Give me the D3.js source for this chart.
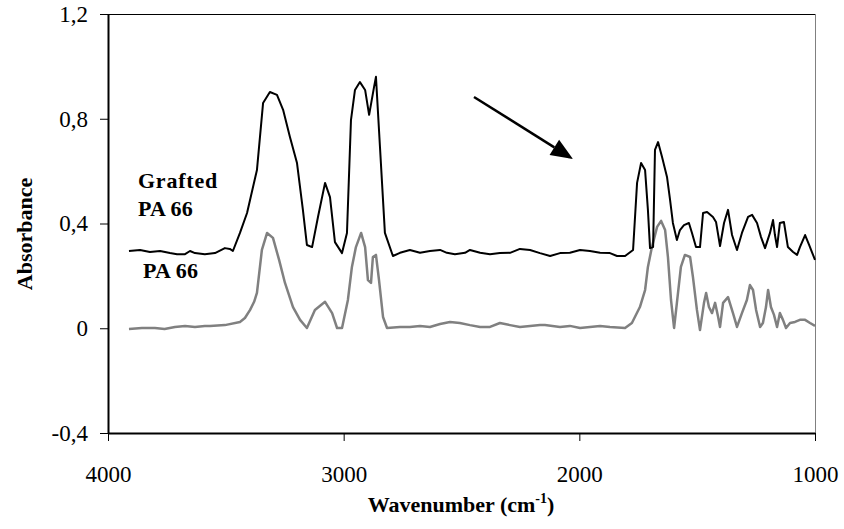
<!DOCTYPE html>
<html><head><meta charset="utf-8">
<script src="https://cdn.jsdelivr.net/npm/d3@7"></script>
</head>
<body style="margin:0;background:#fff"><svg id="c" width="844" height="529"></svg>
<script>
// Wavenumber (cm-1)
const graftedWn = [3911,3864,3822,3779,3737,3707,3673,3652,3631,3589,3546,3504,3483,3470,3440,3410,3368,3342,3313,3283,3257,3228,3198,3173,3156,3134,3109,3079,3058,3037,3007,2986,2969,2952,2931,2909,2892,2871,2863,2846,2825,2791,2761,2719,2676,2634,2591,2562,2528,2485,2464,2421,2379,2337,2294,2252,2209,2167,2124,2082,2040,1997,1955,1912,1870,1840,1806,1772,1755,1738,1721,1709,1700,1687,1679,1666,1649,1628,1615,1603,1586,1573,1556,1535,1522,1505,1488,1475,1458,1433,1420,1403,1386,1369,1352,1331,1310,1284,1267,1246,1229,1212,1191,1178,1170,1161,1149,1132,1115,1093,1076,1064,1042,1025,1013,1000];
const graftedAbs = [0.295,0.299,0.291,0.295,0.287,0.283,0.283,0.295,0.287,0.283,0.287,0.306,0.303,0.295,0.364,0.440,0.604,0.860,0.902,0.891,0.834,0.730,0.631,0.452,0.318,0.310,0.425,0.555,0.501,0.329,0.287,0.364,0.795,0.910,0.940,0.910,0.815,0.922,0.960,0.693,0.364,0.276,0.288,0.299,0.288,0.295,0.299,0.288,0.283,0.288,0.299,0.288,0.283,0.287,0.288,0.303,0.299,0.287,0.276,0.287,0.288,0.299,0.295,0.288,0.287,0.276,0.276,0.299,0.555,0.631,0.604,0.452,0.306,0.310,0.681,0.711,0.654,0.578,0.490,0.402,0.337,0.375,0.394,0.402,0.364,0.310,0.310,0.440,0.444,0.425,0.406,0.314,0.402,0.452,0.356,0.299,0.364,0.425,0.433,0.402,0.348,0.306,0.364,0.413,0.356,0.310,0.402,0.406,0.310,0.291,0.280,0.310,0.356,0.318,0.291,0.261];
const pa66Wn = [3911,3856,3801,3760,3716,3673,3631,3589,3567,3504,3440,3419,3397,3380,3368,3347,3325,3300,3274,3249,3215,3185,3156,3122,3079,3049,3028,3007,2982,2965,2948,2926,2909,2897,2884,2876,2863,2850,2833,2816,2761,2719,2676,2634,2591,2549,2507,2464,2421,2379,2337,2294,2252,2209,2167,2146,2082,2040,1997,1955,1912,1870,1806,1777,1743,1721,1709,1692,1670,1653,1636,1624,1611,1598,1586,1569,1552,1530,1518,1501,1488,1471,1462,1450,1437,1424,1411,1403,1390,1369,1348,1331,1310,1289,1276,1263,1250,1233,1221,1208,1199,1187,1174,1161,1149,1136,1123,1106,1085,1064,1042,1021,1000];
const pa66Abs = [-0.003,0.001,0.001,-0.003,0.005,0.009,0.005,0.009,0.009,0.012,0.024,0.039,0.070,0.101,0.135,0.299,0.364,0.345,0.261,0.173,0.081,0.032,0.001,0.070,0.101,0.058,0.001,0.001,0.108,0.234,0.310,0.364,0.310,0.184,0.173,0.272,0.280,0.184,0.043,0.001,0.005,0.005,0.009,0.005,0.016,0.024,0.020,0.012,0.005,0.005,0.020,0.012,0.005,0.009,0.012,0.012,0.005,0.009,0.001,0.005,0.009,0.005,0.001,0.020,0.081,0.146,0.234,0.310,0.387,0.410,0.375,0.272,0.108,0.001,0.097,0.234,0.280,0.272,0.196,0.070,-0.007,0.097,0.135,0.081,0.058,0.097,0.043,0.005,0.097,0.119,0.058,0.005,0.058,0.108,0.165,0.146,0.070,0.005,0.020,0.081,0.146,0.081,0.051,0.005,0.058,0.032,0.001,0.020,0.024,0.032,0.032,0.020,0.009];
const xTicks = [4000,3000,2000,1000];
const yTicks = [-0.4,0,0.4,0.8,1.2];
const yTickLabels = ["-0,4","0","0,4","0,8","1,2"];
// annotations (data coordinates)
const seriesLabels = [
  {text:"Grafted", wn:3873, abs:0.536},
  {text:"PA 66", wn:3873, abs:0.429},
  {text:"PA 66", wn:3851, abs:0.192}
];
const arrowFrom = [2447, 0.883];
const arrowTo = [2027, 0.646];

const FONT = "'Liberation Serif', serif";
const svg = d3.select("#c");
const L=108, R=815, T=14, B=433;
const x = d3.scaleLinear().domain([4000,1000]).range([L,R]);
const y = d3.scaleLinear().domain([-0.4,1.2]).range([B,T]);

// frame top & right
svg.append("line").attr("x1",L).attr("x2",R).attr("y1",T+0.5).attr("y2",T+0.5).attr("stroke","#000").attr("stroke-width",1);
svg.append("line").attr("x1",R+0.5).attr("x2",R+0.5).attr("y1",T).attr("y2",B).attr("stroke","#808080").attr("stroke-width",1);

// y axis
const ya = svg.append("g").attr("transform",`translate(${L},0)`)
  .call(d3.axisLeft(y).tickValues(yTicks).tickSize(8).tickSizeOuter(0).tickPadding(12)
    .tickFormat((d,i)=>yTickLabels[i]));
ya.attr("font-family",FONT).attr("font-size",23);
ya.select(".domain").attr("stroke","#000").attr("stroke-width",2);
ya.selectAll(".tick line").attr("stroke","#000");
ya.selectAll(".tick text").attr("fill","#000").attr("font-family",FONT).attr("font-size",23);

// x axis
const xa = svg.append("g").attr("transform",`translate(0,${B})`)
  .call(d3.axisBottom(x).tickValues(xTicks).tickSize(8).tickSizeOuter(0).tickFormat(d3.format("d")));
xa.attr("font-family",FONT).attr("font-size",23);
xa.select(".domain").attr("stroke","#000").attr("stroke-width",2);
xa.selectAll(".tick line").attr("stroke","#000");
xa.selectAll(".tick text").attr("fill","#000").attr("font-family",FONT).attr("font-size",23)
  .attr("y",49).attr("dy",0);

// lines
const line = d3.line().x(d=>x(d[0])).y(d=>y(d[1]));
svg.append("path").datum(pa66Wn.map((w,i)=>[w,pa66Abs[i]]))
  .attr("d",line).attr("fill","none").attr("stroke","#808080").attr("stroke-width",2.5).attr("stroke-linejoin","round");
svg.append("path").datum(graftedWn.map((w,i)=>[w,graftedAbs[i]]))
  .attr("d",line).attr("fill","none").attr("stroke","#000").attr("stroke-width",2).attr("stroke-linejoin","round");

// series labels
svg.selectAll("text.sl").data(seriesLabels).enter().append("text").attr("class","sl")
  .attr("x",d=>x(d.wn)).attr("y",d=>y(d.abs))
  .attr("font-family",FONT).attr("font-size",22).attr("font-weight","bold")
  .attr("letter-spacing",d=>d.text==="Grafted"?0.8:0.2)
  .text(d=>d.text);

// arrow
const x1=x(arrowFrom[0]), y1=y(arrowFrom[1]), x2=x(arrowTo[0]), y2=y(arrowTo[1]);
const ang=Math.atan2(y2-y1,x2-x1), hl=22, hw=9;
const bx=x2-hl*Math.cos(ang), by=y2-hl*Math.sin(ang);
svg.append("line").attr("x1",x1).attr("y1",y1).attr("x2",bx).attr("y2",by).attr("stroke","#000").attr("stroke-width",2.5);
svg.append("path").attr("d",`M${x2},${y2}L${bx+hw*Math.sin(ang)},${by-hw*Math.cos(ang)}L${bx-hw*Math.sin(ang)},${by+hw*Math.cos(ang)}Z`).attr("fill","#000");

// axis titles
svg.append("text").attr("transform","translate(32,234) rotate(-90)").attr("text-anchor","middle")
  .attr("font-family",FONT).attr("font-size",22).attr("font-weight","bold").text("Absorbance");
const xt = svg.append("text").attr("x",461).attr("y",512).attr("text-anchor","middle")
  .attr("font-family",FONT).attr("font-size",22).attr("font-weight","bold");
xt.append("tspan").text("Wavenumber (cm");
xt.append("tspan").attr("dy",-9).attr("font-size",14).text("-1");
xt.append("tspan").attr("dy",9).text(")");
</script></body></html>
